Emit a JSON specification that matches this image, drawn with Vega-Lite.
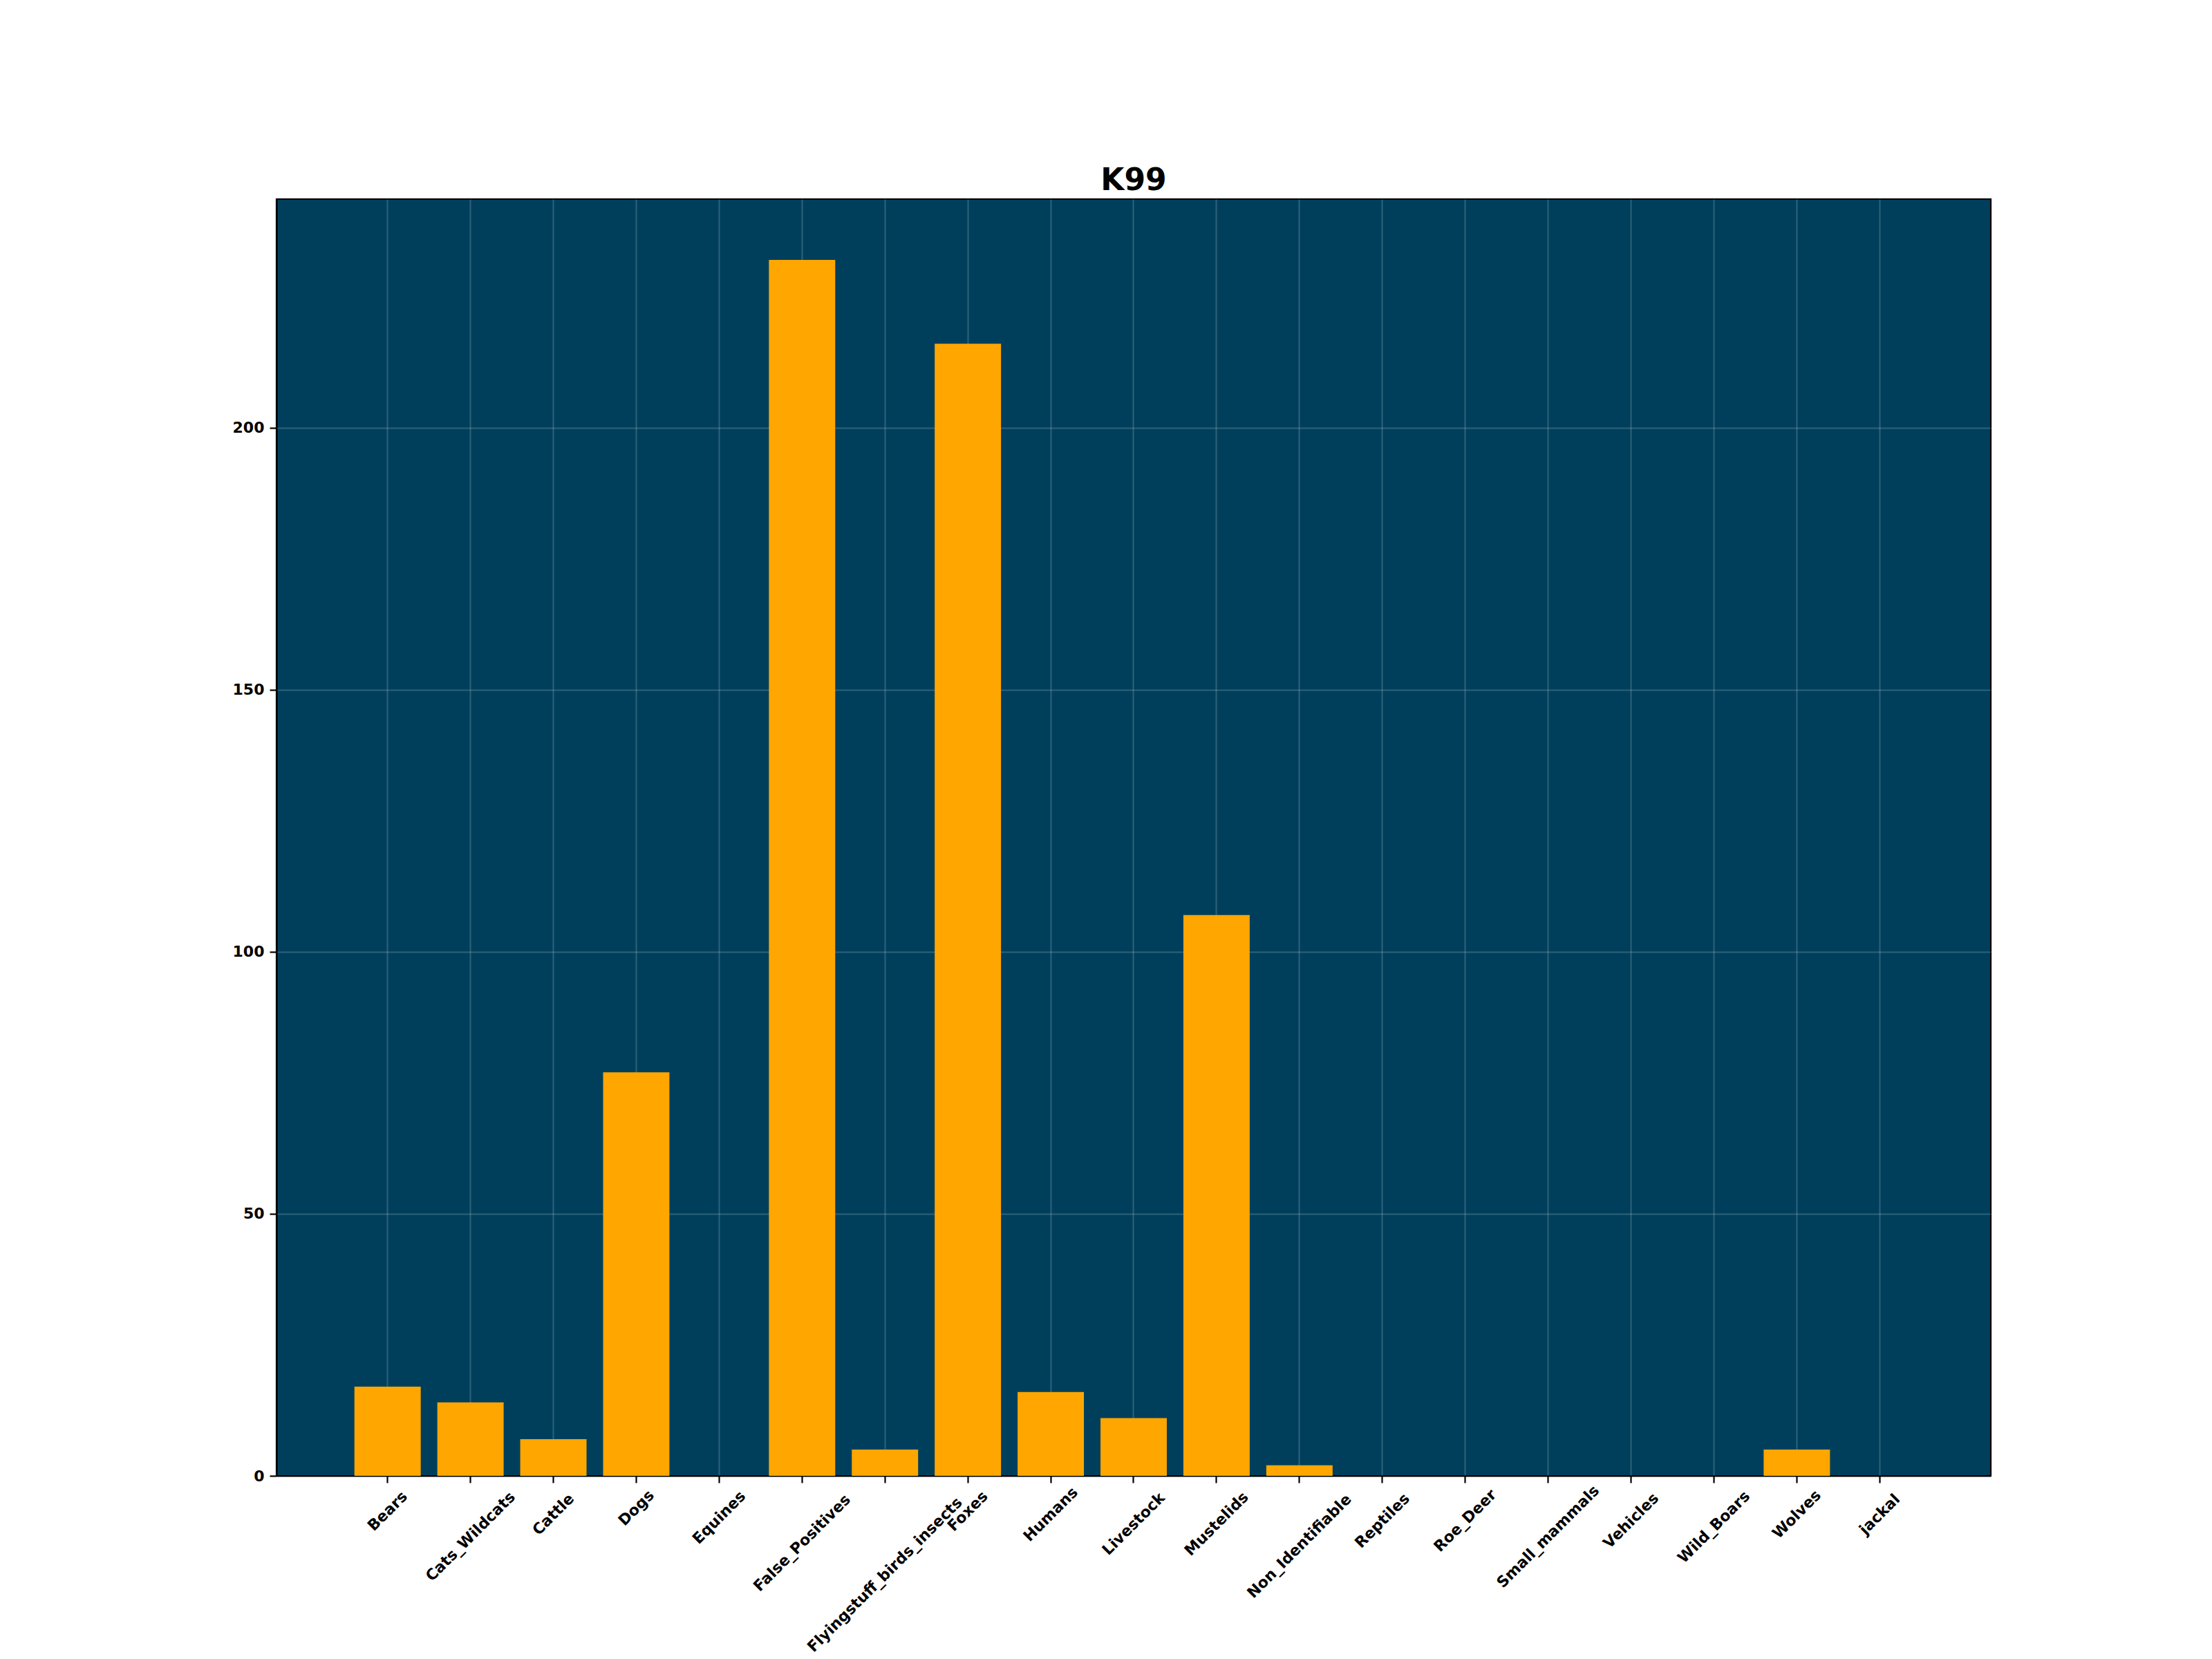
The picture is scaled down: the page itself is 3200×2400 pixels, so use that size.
{
  "$schema": "https://vega.github.io/schema/vega-lite/v6.json",
  "autosize": {"type": "none"},
  "padding": {"left": 400, "top": 288, "right": 320, "bottom": 265},
  "width": 2480,
  "height": 1847,
  "background": "white",
  "title": {
    "text": "K99",
    "font": "DejaVu Sans",
    "fontSize": 44,
    "fontWeight": "bold",
    "color": "black",
    "anchor": "middle",
    "baseline": "alphabetic",
    "offset": 14,
    "dy": 45
  },
  "config": {
    "view": {"fill": "#003f5c", "stroke": "black", "strokeWidth": 2.2},
    "axis": {
      "labelFont": "DejaVu Sans",
      "labelFontSize": 22,
      "labelFontWeight": "bold",
      "labelColor": "black",
      "domainColor": "black",
      "domainWidth": 2.2,
      "tickColor": "black",
      "tickWidth": 2.2,
      "tickSize": 10,
      "gridColor": "#ffffff",
      "gridOpacity": 0.18,
      "gridWidth": 2,
      "title": null
    }
  },
  "data": {
    "values": [
      {"category": "Bears", "count": 17},
      {"category": "Cats_Wildcats", "count": 14},
      {"category": "Cattle", "count": 7},
      {"category": "Dogs", "count": 77},
      {"category": "Equines", "count": 0},
      {"category": "False_Positives", "count": 232},
      {"category": "Flyingstuff_birds_insects", "count": 5},
      {"category": "Foxes", "count": 216},
      {"category": "Humans", "count": 16},
      {"category": "Livestock", "count": 11},
      {"category": "Mustelids", "count": 107},
      {"category": "Non_Identifiable", "count": 2},
      {"category": "Reptiles", "count": 0},
      {"category": "Roe_Deer", "count": 0},
      {"category": "Small_mammals", "count": 0},
      {"category": "Vehicles", "count": 0},
      {"category": "Wild_Boars", "count": 0},
      {"category": "Wolves", "count": 5},
      {"category": "jackal", "count": 0}
    ]
  },
  "mark": {"type": "bar", "color": "#ffa600"},
  "encoding": {
    "x": {
      "field": "category",
      "type": "nominal",
      "sort": null,
      "scale": {"paddingInner": 0.2, "paddingOuter": 0.94},
      "axis": {
        "labelAngle": -45,
        "labelAlign": "center",
        "labelBaseline": "middle",
        "labelPadding": {"expr": "10 + (length(datum.label) * 13 + 22) / 2.83"},
        "labelOverlap": false,
        "labelBound": false,
        "labelLimit": 0,
        "grid": true
      }
    },
    "y": {
      "field": "count",
      "type": "quantitative",
      "scale": {"domain": [0, 243.6], "nice": false, "zero": true},
      "axis": {
        "values": [0, 50, 100, 150, 200],
        "labelPadding": 8,
        "grid": true
      }
    }
  }
}
